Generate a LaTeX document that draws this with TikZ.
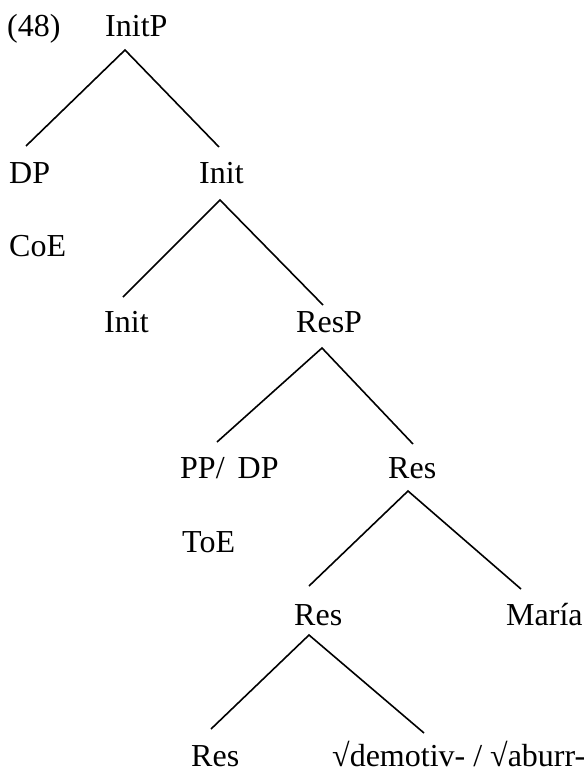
\documentclass[tikz,border=0pt]{standalone}
\usepackage{fontspec}
\setmainfont{Liberation Serif}
\begin{document}
\begin{tikzpicture}[x=1pt, y=-1pt,
  lbl/.style={anchor=base west, inner sep=0pt, font=\fontsize{32}{38}\selectfont},
  branch/.style={line width=1.6pt, line cap=butt}]
\useasboundingbox (0,0) rectangle (587,773);

% example number
\node[lbl] (exnum) at (7,37) {(48)};

% labels of the tree, placed on their baselines
\node[lbl] (initP)  at (105,37)  {InitP};
\node[lbl] (dp)     at (9,183)   {DP};
\node[lbl] (initA)  at (199,183) {Init};
\node[lbl] (coe)    at (9,256)   {CoE};
\node[lbl] (initB)  at (104,332) {Init};
\node[lbl] (resP)   at (296,332) {ResP};
\node[lbl] (ppdp)   at (180,478) {PP/\hspace{5pt} DP};
\node[lbl] (resA)   at (388,478) {Res};
\node[lbl] (toe)    at (182,552) {ToE};
\node[lbl] (resB)   at (294,625) {Res};
\node[lbl] (maria)  at (506,625) {María};
\node[lbl] (resC)   at (191,766) {Res};
\node[lbl] (root)   at (332,766) {√demotiv- / √aburr-};

% branch points below each mother and ends above each daughter
\coordinate (initP-m) at (125,50);
\coordinate (dp-t)    at (26,146);
\coordinate (initA-t) at (219,147);
\coordinate (initA-m) at (220,200);
\coordinate (initB-t) at (123,297);
\coordinate (resP-t)  at (323,305);
\coordinate (resP-m)  at (322,348);
\coordinate (ppdp-t)  at (217,442);
\coordinate (resA-t)  at (413,444);
\coordinate (resA-m)  at (408,491);
\coordinate (resB-t)  at (309,586);
\coordinate (maria-t) at (521,589);
\coordinate (resB-m)  at (309,635);
\coordinate (resC-t)  at (211,729);
\coordinate (root-t)  at (424,733);

% branches
\draw[branch] (dp-t) -- (initP-m) -- (initA-t);
\draw[branch] (initB-t) -- (initA-m) -- (resP-t);
\draw[branch] (ppdp-t) -- (resP-m) -- (resA-t);
\draw[branch] (resB-t) -- (resA-m) -- (maria-t);
\draw[branch] (resC-t) -- (resB-m) -- (root-t);
\end{tikzpicture}
\end{document}
